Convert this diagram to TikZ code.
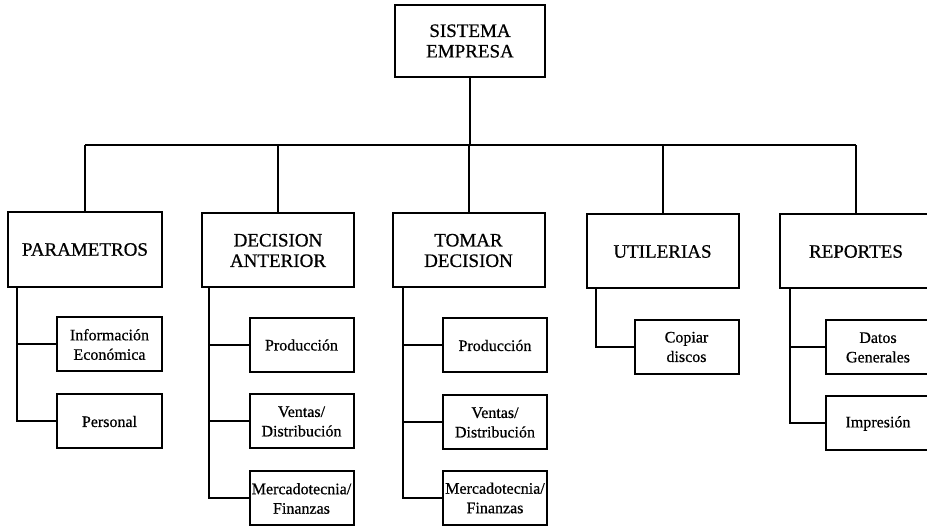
\documentclass[tikz,border=0pt]{standalone}
\usepackage{fontspec}
\setmainfont{Liberation Serif}[UprightFeatures={FakeBold=0.6}]
\begin{document}
\begin{tikzpicture}[x=1pt,y=-1pt,
  line width=2pt,
  mainbox/.style={draw, rectangle, inner sep=0pt, align=center,
    minimum width=152pt, minimum height=74pt,
    font=\fontsize{19}{20.5}\selectfont},
  subbox/.style={draw, rectangle, inner sep=0pt, align=center,
    minimum width=104pt, minimum height=54pt,
    font=\fontsize{16}{19.5}\selectfont},
  link/.style={draw, line width=2pt}]
\useasboundingbox (0,0) rectangle (927,526);
\fill[white] (0,0) rectangle (927,526);
\clip (0,0) rectangle (927,526);

% root
\node[mainbox, minimum width=150pt, minimum height=72pt] (root) at (470,41) {SISTEMA\\EMPRESA};

% first level
\node[mainbox, minimum width=154pt, minimum height=75pt] (par) at (85,249.5) {PARAMETROS};
\node[mainbox] (dec) at (278,250.5) {DECISION\\ANTERIOR};
\node[mainbox] (tom) at (468.5,250.5) {TOMAR\\DECISION};
\node[mainbox] (uti) at (662.5,251.5) {UTILERIAS};
\node[mainbox] (rep) at (856,251.5) {REPORTES};

% bus between root and first level
\coordinate (bus) at (0,145);
\draw[link] (root.south) -- (root.south |- bus);
\draw[link] (par.north |- bus) -- (rep.north |- bus);
\foreach \n in {par,dec,tom,uti,rep}
  \draw[link] (\n.north) -- (\n.north |- bus);

% second level: PARAMETROS
\node[subbox, minimum width=105pt] (par1) at (109.5,344.5) {Información\\Económica};
\node[subbox, minimum width=105pt] (par2) at (109.5,421.5) {Personal};

% second level: DECISION ANTERIOR
\node[subbox] (dec1) at (301.5,345) {Producción};
\node[subbox] (dec2) at (301.5,421.5) {Ventas/\\Distribución};
\node[subbox] (dec3) at (301.5,498.5) {Mercadotecnia/\\Finanzas};

% second level: TOMAR DECISION
\node[subbox] (tom1) at (495,345.5) {Producción};
\node[subbox] (tom2) at (495,422.5) {Ventas/\\Distribución};
\node[subbox] (tom3) at (495,498) {Mercadotecnia/\\Finanzas};

% second level: UTILERIAS
\node[subbox] (uti1) at (686.5,347) {Copiar\\discos};

% second level: REPORTES
\node[subbox] (rep1) at (878,347.5) {Datos\\Generales};
\node[subbox] (rep2) at (878,423.5) {Impresión};

% trunks from each parent down to its children
\coordinate (tp) at ([xshift=10pt]par.south west);
\coordinate (td) at ([xshift=8pt]dec.south west);
\coordinate (tt) at ([xshift=11pt]tom.south west);
\coordinate (tu) at ([xshift=10pt]uti.south west);
\coordinate (tr) at ([xshift=11pt]rep.south west);

\draw[link] (tp) |- (par2.west);
\draw[link] (par1.west) -- (par1.west -| tp);

\draw[link] (td) |- (dec3.west);
\draw[link] (dec1.west) -- (dec1.west -| td);
\draw[link] (dec2.west) -- (dec2.west -| td);

\draw[link] (tt) |- (tom3.west);
\draw[link] (tom1.west) -- (tom1.west -| tt);
\draw[link] (tom2.west) -- (tom2.west -| tt);

\draw[link] (tu) |- (uti1.west);

\draw[link] (tr) |- (rep2.west);
\draw[link] (rep1.west) -- (rep1.west -| tr);
\end{tikzpicture}
\end{document}
